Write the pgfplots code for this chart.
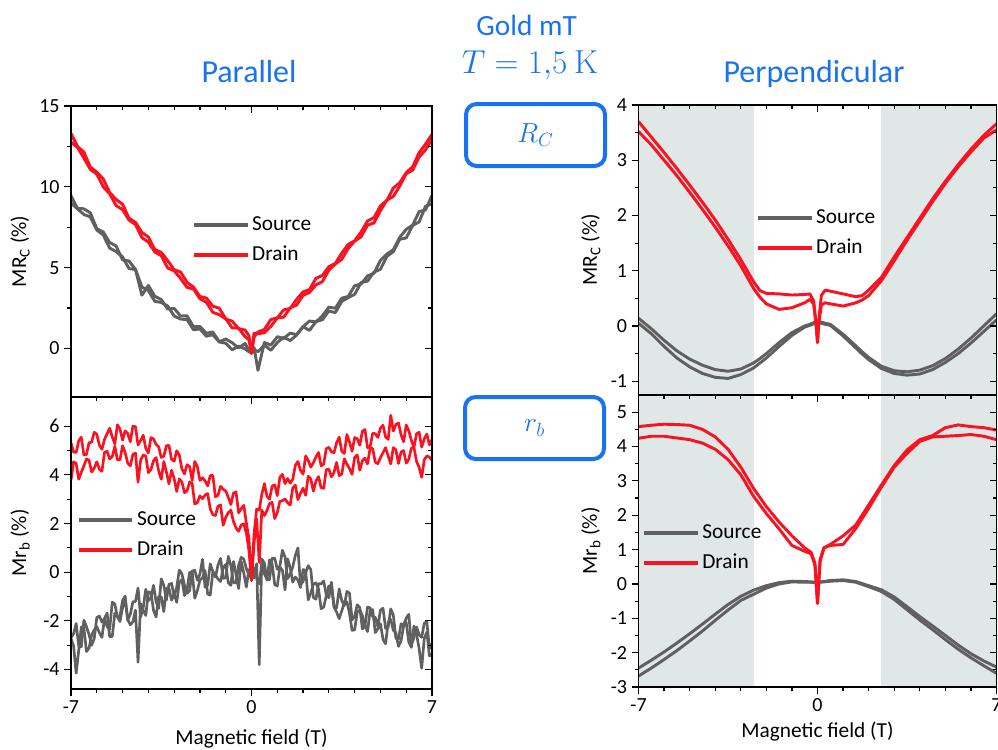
\documentclass[border=0pt]{standalone}
\usepackage{pgfplots}
\usepackage{pgfplotstable}
\pgfplotsset{compat=1.18}
\usepackage[no-math]{fontspec}
\setmainfont{Carlito}

\definecolor{srcgrey}{RGB}{96,96,96}
\definecolor{drnred}{RGB}{250,18,32}
\definecolor{titleblue}{RGB}{25,115,240}
\definecolor{bandgrey}{RGB}{224,232,231}

% columns: field, drain sweep 1, drain sweep 2, source sweep 1, source sweep 2
\pgfplotstableread{
x d1 d2 s1 s2
-7.00 13.30 12.76 9.45 9.00
-6.75 12.50 12.44 8.67 8.64
-6.50 12.15 11.78 8.64 8.29
-6.25 11.22 11.08 8.39 8.14
-6.00 10.91 10.79 7.41 7.33
-5.75 10.49 10.00 7.21 7.03
-5.50 9.65 9.57 6.56 6.21
-5.25 9.22 8.84 6.34 6.00
-5.00 8.92 8.59 5.48 5.67
-4.75 8.06 7.94 5.41 4.94
-4.50 7.80 7.67 4.89 4.89
-4.25 7.18 6.86 3.30 3.81
-4.00 6.90 6.58 3.90 3.58
-3.75 6.12 5.97 3.23 2.92
-3.50 5.95 5.74 3.03 2.85
-3.25 5.43 4.98 2.44 2.63
-3.00 4.88 4.81 2.48 2.01
-2.75 4.73 4.33 2.01 1.82
-2.50 4.09 3.78 2.02 1.79
-2.25 3.80 3.68 1.35 1.16
-2.00 3.22 3.08 1.36 1.21
-1.75 3.12 2.86 0.94 0.76
-1.50 2.62 2.24 1.02 0.85
-1.25 2.49 2.09 0.42 0.40
-1.00 1.83 1.84 0.59 0.33
-0.75 1.69 1.28 0.36 -0.08
-0.50 1.23 1.26 0.03 0.15
-0.25 1.14 0.73 0.31 -0.02
-0.10 0.80 0.55 -0.10 -0.20
0.00 -0.30 -0.25 -0.30 -0.25
0.10 0.70 0.95 0.05 -0.05
0.25 1.02 0.91 -1.35 -0.20
0.50 1.18 0.98 0.37 0.21
0.75 1.79 1.37 0.21 -0.11
1.00 1.90 1.89 0.73 0.37
1.25 2.39 1.94 0.62 0.70
1.50 2.48 2.51 0.95 0.49
1.75 3.04 2.69 0.86 0.83
2.00 3.50 3.29 1.35 1.34
2.25 3.65 3.47 1.70 1.12
2.50 4.34 3.94 1.64 1.67
2.75 4.52 4.14 2.02 1.78
3.00 5.06 4.85 2.56 2.32
3.25 5.26 5.23 2.49 2.22
3.50 5.90 5.52 3.11 2.91
3.75 6.44 6.19 3.22 3.15
4.00 6.66 6.64 3.88 3.35
4.25 7.21 6.91 3.99 4.08
4.50 7.89 7.63 4.49 4.17
4.75 8.09 7.77 4.65 4.73
5.00 8.82 8.53 5.45 4.90
5.25 9.16 9.18 5.84 5.70
5.50 9.92 9.41 6.11 5.99
5.75 10.26 10.05 6.88 6.76
6.00 10.88 10.82 7.37 6.84
6.25 11.24 11.03 7.63 7.61
6.50 12.11 11.84 8.47 7.83
6.75 12.64 12.29 8.57 8.80
7.00 13.25 12.95 9.47 8.95
}\parRc

\pgfplotstableread{
x d1 d2 s1 s2
-7.0 5.32 3.79 -2.68 -2.72
-6.9 4.94 4.54 -2.53 -3.03
-6.8 4.92 4.47 -2.11 -4.15
-6.7 5.40 3.82 -3.04 -3.21
-6.6 5.55 4.11 -3.06 -2.25
-6.5 4.82 4.37 -1.97 -2.27
-6.4 4.84 4.66 -2.24 -3.26
-6.3 5.32 4.60 -2.56 -3.12
-6.2 5.34 4.12 -3.00 -2.58
-6.1 5.75 4.27 -2.73 -2.38
-6.0 5.67 4.54 -1.87 -2.24
-5.9 5.22 4.23 -1.80 -2.49
-5.8 5.05 4.15 -2.05 -2.68
-5.7 5.46 4.92 -1.91 -1.89
-5.6 5.69 4.97 -2.23 -1.68
-5.5 5.92 4.66 -2.35 -2.65
-5.4 5.56 4.75 -1.23 -2.64
-5.3 5.27 5.18 -1.31 -1.68
-5.2 6.06 4.62 -1.85 -1.82
-5.1 5.88 4.62 -1.80 -2.03
-5.0 5.43 5.20 -1.16 -1.46
-4.9 5.81 4.91 -0.98 -1.15
-4.8 5.70 4.48 -1.97 -1.95
-4.7 5.36 4.37 -1.73 -2.16
-4.6 6.00 4.84 -1.22 -2.04
-4.5 5.98 4.90 -1.20 -1.56
-4.4 5.23 3.70 -0.65 -3.70
-4.3 5.41 4.60 -1.84 -1.29
-4.2 5.63 4.82 -1.46 -1.57
-4.1 5.09 4.77 -0.70 -1.78
-4.0 4.90 4.09 -1.17 -0.81
-3.9 5.53 4.22 -1.05 -0.83
-3.8 5.48 4.58 -0.54 -1.56
-3.7 5.25 4.71 -1.21 -1.84
-3.6 5.15 4.16 -1.49 -1.00
-3.5 4.72 3.82 -0.27 -1.02
-3.4 4.77 4.55 -0.54 -1.62
-3.3 5.20 4.12 -1.14 -0.66
-3.2 5.21 3.63 -0.50 -0.67
-3.1 4.64 4.19 -0.46 -1.15
-3.0 4.56 3.85 -0.99 -0.90
-2.9 4.99 3.32 -0.62 -1.24
-2.8 4.82 3.83 0.09 -0.41
-2.7 4.25 3.71 -0.06 -0.30
-2.6 4.04 3.27 -0.53 -0.96
-2.5 4.42 3.34 -0.87 -0.72
-2.4 4.34 3.71 -0.76 -0.01
-2.3 3.77 3.64 0.05 0.01
-2.2 4.55 2.80 0.08 -1.07
-2.1 4.34 2.86 -0.33 -0.76
-2.0 3.77 3.14 -0.08 -0.32
-1.9 3.88 3.02 0.53 -0.23
-1.8 3.75 3.17 -0.62 0.06
-1.7 3.55 3.23 -0.53 -0.90
-1.6 3.97 2.61 0.34 -0.94
-1.5 3.98 2.36 0.04 0.00
-1.4 3.10 2.33 -0.20 -0.10
-1.3 3.16 2.71 0.29 -0.28
-1.2 3.53 2.77 0.57 -0.38
-1.1 3.41 1.93 -0.25 0.17
-1.0 3.34 2.25 -0.23 0.32
-0.9 3.08 2.45 0.65 -0.44
-0.8 2.78 2.55 0.28 -0.54
-0.7 3.25 2.08 -0.44 0.44
-0.6 3.30 1.82 -0.44 -0.08
-0.5 2.44 1.68 0.28 -0.67
-0.4 2.61 1.94 0.61 0.44
-0.3 2.75 1.99 0.54 -0.02
-0.2 2.03 1.60 0.15 -0.61
-0.1 1.40 0.90 -0.11 0.11
0.0 -0.30 -0.35 0.30 -0.30
0.1 1.60 1.20 -0.24 0.18
0.2 2.60 2.20 0.35 -0.15
0.3 2.55 0.40 -3.80 -0.48
0.4 3.20 2.55 0.54 0.37
0.5 3.64 2.33 0.37 -0.06
0.6 3.12 2.54 -0.32 -0.30
0.7 3.00 2.82 -0.30 0.51
0.8 3.54 2.87 0.58 0.34
0.9 3.59 2.20 0.58 -0.51
1.0 3.15 2.45 0.12 -0.57
1.1 3.90 2.91 0.25 0.21
1.2 4.02 2.94 0.90 0.08
1.3 3.64 3.01 0.62 -0.73
1.4 3.85 2.86 -0.26 0.55
1.5 3.66 2.76 -0.09 0.20
1.6 3.82 3.46 0.22 -0.41
1.7 4.39 3.58 0.69 -0.20
1.8 4.55 2.98 1.00 -0.32
1.9 4.18 3.24 -0.52 -0.63
2.0 4.03 3.45 -0.38 0.11
2.1 4.78 3.16 -0.02 0.07
2.2 4.59 3.95 0.27 -1.14
2.3 4.32 3.83 0.11 -0.85
2.4 4.50 3.33 -1.04 -0.49
2.5 4.74 3.75 -1.11 -0.44
2.6 4.92 3.93 -0.47 -0.70
2.7 4.37 3.47 -0.48 -1.50
2.8 4.44 3.45 -0.36 -1.44
2.9 5.08 4.22 -0.93 -0.97
3.0 5.13 4.23 -1.05 -0.56
3.1 4.95 3.92 -0.41 -0.58
3.2 4.91 4.10 -1.39 -1.43
3.3 5.32 4.51 -1.47 -1.64
3.4 5.55 3.97 -0.69 -1.91
3.5 4.97 4.03 -1.16 -1.59
3.6 4.88 4.66 -1.37 -1.27
3.7 5.66 4.44 -0.79 -1.22
3.8 5.35 4.26 -0.86 -1.68
3.9 4.97 4.02 -1.96 -2.39
4.0 5.53 4.72 -1.81 -2.37
4.1 5.49 4.82 -1.34 -1.64
4.2 5.22 4.19 -1.45 -1.56
4.3 5.79 4.58 -2.33 -1.78
4.4 5.86 4.69 -2.22 -2.20
4.5 5.12 4.45 -1.43 -2.44
4.6 5.15 5.10 -1.47 -1.58
4.7 5.71 5.08 -1.83 -1.54
4.8 5.69 4.52 -1.85 -2.48
4.9 5.54 4.46 -2.23 -2.33
5.0 5.92 4.70 -1.56 -2.12
5.1 6.04 4.91 -1.48 -2.76
5.2 5.56 5.12 -2.31 -2.94
5.3 5.46 4.78 -2.27 -2.05
5.4 6.45 4.45 -1.51 -1.94
5.5 5.80 5.12 -1.76 -2.39
5.6 6.07 5.03 -2.72 -2.50
5.7 6.13 4.47 -2.75 -3.05
5.8 5.65 4.94 -2.12 -2.81
5.9 5.36 5.00 -2.17 -2.21
6.0 6.05 4.48 -1.89 -2.06
6.1 5.81 4.64 -1.73 -2.87
6.2 5.42 5.10 -2.99 -3.09
6.3 5.13 5.13 -2.69 -2.21
6.4 5.69 4.56 -2.25 -2.55
6.5 5.75 4.31 -2.57 -3.13
6.6 5.14 3.90 -2.68 -3.95
6.7 5.48 4.62 -2.10 -2.72
6.8 5.68 4.78 -2.03 -2.46
6.9 5.23 4.73 -3.14 -3.44
7.0 5.45 4.60 -2.94 -3.37
}\parrb

\pgfplotstableread{
x d1 d2 s1 s2
-7.00 3.70 3.52 0.14 0.05
-6.50 3.42 3.28 -0.05 -0.14
-6.00 3.14 3.00 -0.26 -0.37
-5.50 2.85 2.72 -0.45 -0.58
-5.00 2.55 2.42 -0.60 -0.74
-4.50 2.24 2.11 -0.71 -0.86
-4.00 1.92 1.79 -0.79 -0.93
-3.50 1.57 1.45 -0.82 -0.95
-3.00 1.20 1.09 -0.78 -0.88
-2.50 0.80 0.68 -0.67 -0.76
-2.25 0.64 0.52 -0.59 -0.67
-2.00 0.59 0.40 -0.50 -0.58
-1.50 0.58 0.30 -0.30 -0.37
-1.00 0.56 0.33 -0.12 -0.17
-0.50 0.57 0.42 0.00 -0.02
-0.30 0.58 0.48 0.03 0.01
-0.15 0.45 0.40 0.06 0.04
-0.05 0.00 0.00 0.07 0.06
0.00 -0.30 -0.30 0.07 0.06
0.05 0.10 0.05 0.07 0.06
0.15 0.55 0.38 0.07 0.05
0.30 0.65 0.42 0.05 0.03
0.50 0.63 0.40 0.03 0.01
1.00 0.58 0.36 -0.15 -0.18
1.50 0.53 0.42 -0.36 -0.40
1.75 0.55 0.47 -0.47 -0.51
2.00 0.65 0.55 -0.57 -0.61
2.50 0.88 0.82 -0.73 -0.77
3.00 1.25 1.18 -0.81 -0.86
3.50 1.60 1.55 -0.83 -0.89
4.00 1.95 1.90 -0.80 -0.87
4.50 2.30 2.25 -0.72 -0.79
5.00 2.62 2.58 -0.59 -0.66
5.50 2.92 2.88 -0.42 -0.50
6.00 3.20 3.15 -0.22 -0.31
6.50 3.45 3.40 0.00 -0.10
7.00 3.66 3.55 0.22 0.11
}\perpRc

\pgfplotstableread{
x d1 d2 s1 s2
-7.00 4.58 4.24 -2.45 -2.68
-6.50 4.62 4.30 -2.22 -2.45
-6.00 4.65 4.30 -1.98 -2.20
-5.50 4.64 4.25 -1.72 -1.94
-5.00 4.62 4.20 -1.45 -1.66
-4.50 4.50 4.10 -1.17 -1.37
-4.00 4.28 3.92 -0.88 -1.06
-3.50 3.92 3.62 -0.60 -0.76
-3.00 3.40 3.18 -0.36 -0.48
-2.50 2.78 2.55 -0.18 -0.30
-2.00 2.25 2.05 -0.05 -0.12
-1.50 1.80 1.60 0.04 0.00
-1.00 1.40 1.12 0.08 0.06
-0.50 1.05 0.95 0.07 0.05
-0.25 0.92 0.88 0.06 0.05
-0.10 0.60 0.55 0.05 0.04
0.00 -0.57 -0.55 0.05 0.04
0.10 0.70 0.65 0.06 0.05
0.25 1.05 1.05 0.07 0.06
0.50 1.15 1.12 0.10 0.08
1.00 1.40 1.15 0.12 0.10
1.50 1.72 1.62 0.07 0.05
2.00 2.30 2.20 -0.05 -0.08
2.50 2.88 2.82 -0.17 -0.22
3.00 3.45 3.40 -0.38 -0.45
3.50 3.90 3.80 -0.66 -0.75
4.00 4.20 4.15 -0.95 -1.05
4.50 4.32 4.28 -1.22 -1.33
5.00 4.55 4.30 -1.50 -1.62
5.50 4.63 4.32 -1.78 -1.90
6.00 4.58 4.35 -2.03 -2.15
6.50 4.55 4.30 -2.24 -2.38
7.00 4.48 4.20 -2.42 -2.60
}\perprb

\pgfplotsset{
  panel/.style={
    scale only axis, anchor=north west,
    xmin=-7, xmax=7,
    xtick={-7,0,7}, minor xtick={-6,-5,...,6},
    minor y tick num=1,
    tick align=outside, xtick pos=bottom, ytick pos=left,
    major tick length=5pt, minor tick length=3pt,
    every tick/.style={black, line width=0.9pt},
    axis line style={line width=1pt},
    tick label style={font=\fontsize{15}{18}\selectfont},
    label style={font=\fontsize{16}{19}\selectfont},
    /pgf/number format/assume math mode=true,
    axis on top,
    legend cell align=left,
    legend style={draw=none, fill=none, anchor=north west, inner sep=0pt,
      row sep=6.5pt, column sep=1pt,
      font=\fontsize{16}{19}\selectfont,
      nodes={inner sep=1pt, text height=11pt, text depth=3pt}},
    legend image code/.code={\draw[##1, line width=3pt] (0pt,0pt) -- (40pt,0pt);},
  },
  mirror/.style={
    tick align=inside, xtick pos=top, ytick pos=right,
    xticklabels={}, yticklabels={}, axis line style={draw=none},
  },
  src/.style={srcgrey, line width=2.2pt, line join=round},
  drn/.style={drnred, line width=2.2pt, line join=round},
  posTL/.style={at={(53.25pt,-79.5pt)}, width=270.75pt, height=218.25pt,
    ymin=-3, ymax=15, ytick={0,5,10,15}},
  posBL/.style={at={(53.25pt,-297.75pt)}, width=270.75pt, height=219pt,
    ymin=-4.8, ymax=7.2, ytick={-4,-2,0,2,4,6}},
  posTR/.style={at={(478.875pt,-78.75pt)}, width=268.5pt, height=217.5pt,
    ymin=-1.25, ymax=4, ytick={-1,0,1,2,3,4}},
  posBR/.style={at={(478.875pt,-296.25pt)}, width=268.5pt, height=219pt,
    ymin=-3, ymax=5.5, ytick={-3,-2,-1,0,1,2,3,4,5}},
}

\begin{document}
\begin{tikzpicture}[x=1pt,y=1pt]
\useasboundingbox (0,0) rectangle (748.5,-561.75);

% headings
\node[titleblue, font=\fontsize{22}{26}\selectfont, anchor=base] at (395,-27) {Gold mT};
\node[titleblue, font=\fontsize{23}{27}\selectfont, anchor=base] at (397.5,-55.5) {$T = 1{,}5\ \mathrm{K}$};
\node[titleblue, font=\fontsize{24}{28}\selectfont, anchor=base] at (186.75,-61.5) {Parallel};
\node[titleblue, font=\fontsize{24}{28}\selectfont, anchor=base] at (610.5,-61.5) {Perpendicular};

% quantity boxes
\draw[titleblue, line width=3pt, rounded corners=8pt] (349.5,-78) rectangle (453.75,-124.5);
\node[titleblue, font=\fontsize{22}{26}\selectfont] at (401.6,-101.5) {$R_C$};
\draw[titleblue, line width=3pt, rounded corners=8pt] (348.75,-297.75) rectangle (453,-344.25);
\node[titleblue, font=\fontsize{22}{26}\selectfont] at (401,-321) {$r_b$};

% parallel, contact resistance
\begin{axis}[panel, posTL, xticklabels={},
  ylabel={MR\textsubscript{C} (\%)},
  ylabel style={at={(axis description cs:-0.141,0.5)}, anchor=center},
  legend style={at={(0.335,0.628)}}]
\addplot[src] table[x=x, y=s1] {\parRc};
\addlegendentry{Source}
\addplot[src, forget plot] table[x=x, y=s2] {\parRc};
\addplot[drn] table[x=x, y=d1] {\parRc};
\addlegendentry{Drain}
\addplot[drn, forget plot] table[x=x, y=d2] {\parRc};
\end{axis}
\begin{axis}[panel, posTL, mirror]\end{axis}

% parallel, r_b
\begin{axis}[panel, posBL,
  xlabel={Magnetic field (T)},
  xlabel style={at={(axis description cs:0.5,-0.168)}, anchor=center},
  ylabel={Mr\textsubscript{b} (\%)},
  ylabel style={at={(axis description cs:-0.141,0.5)}, anchor=center},
  legend style={at={(0.016,0.616)}}]
\addplot[src, line width=2pt] table[x=x, y=s1] {\parrb};
\addlegendentry{Source}
\addplot[src, line width=2pt, forget plot] table[x=x, y=s2] {\parrb};
\addplot[drn, line width=2pt] table[x=x, y=d1] {\parrb};
\addlegendentry{Drain}
\addplot[drn, line width=2pt, forget plot] table[x=x, y=d2] {\parrb};
\end{axis}
\begin{axis}[panel, posBL, mirror]\end{axis}

% perpendicular, contact resistance
\begin{axis}[panel, posTR, xticklabels={},
  ylabel={MR\textsubscript{C} (\%)},
  ylabel style={at={(axis description cs:-0.133,0.5)}, anchor=center},
  legend style={at={(0.328,0.648)}}]
\fill[bandgrey] (axis cs:-7,-1.25) rectangle (axis cs:-2.5,4);
\fill[bandgrey] (axis cs:2.5,-1.25) rectangle (axis cs:7,4);
\addplot[src] table[x=x, y=s1] {\perpRc};
\addlegendentry{Source}
\addplot[src, forget plot] table[x=x, y=s2] {\perpRc};
\addplot[drn] table[x=x, y=d1] {\perpRc};
\addlegendentry{Drain}
\addplot[drn, forget plot] table[x=x, y=d2] {\perpRc};
\end{axis}
\begin{axis}[panel, posTR, mirror]\end{axis}

% perpendicular, r_b
\begin{axis}[panel, posBR,
  xlabel={Magnetic field (T)},
  xlabel style={at={(axis description cs:0.5,-0.153)}, anchor=center},
  ylabel={Mr\textsubscript{b} (\%)},
  ylabel style={at={(axis description cs:-0.133,0.5)}, anchor=center},
  legend style={at={(0.01,0.565)}}]
\fill[bandgrey] (axis cs:-7,-3) rectangle (axis cs:-2.5,5.5);
\fill[bandgrey] (axis cs:2.5,-3) rectangle (axis cs:7,5.5);
\addplot[src] table[x=x, y=s1] {\perprb};
\addlegendentry{Source}
\addplot[src, forget plot] table[x=x, y=s2] {\perprb};
\addplot[drn] table[x=x, y=d1] {\perprb};
\addlegendentry{Drain}
\addplot[drn, forget plot] table[x=x, y=d2] {\perprb};
\end{axis}
\begin{axis}[panel, posBR, mirror]\end{axis}
\end{tikzpicture}
\end{document}
